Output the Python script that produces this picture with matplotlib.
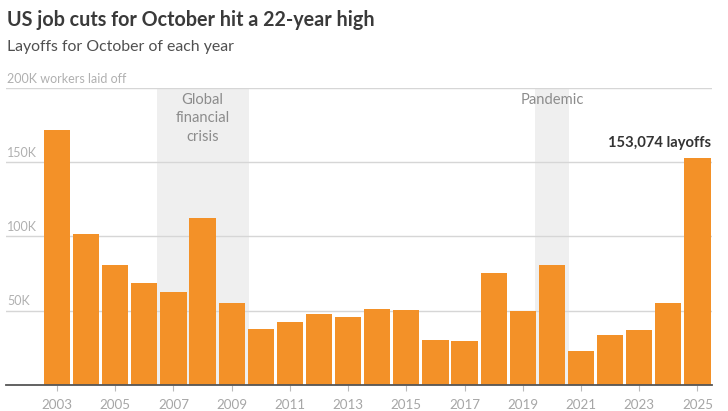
import matplotlib
matplotlib.use("Agg")
import matplotlib.pyplot as plt

# October layoffs, thousands of workers
years = list(range(2003, 2026))
layoffs_k = [171.9, 102.0, 81.0, 68.9, 62.9, 112.5, 55.5, 37.8, 42.2, 47.5,
             45.5, 50.9, 50.2, 30.4, 29.6, 75.5, 50.0, 80.5, 22.7, 33.8,
             36.9, 55.5, 153.1]
y_ticks = [50, 100, 150, 200]
x_ticks = list(range(2003, 2026, 2))
periods = [("Global\nfinancial\ncrisis", 2007, 2009), ("Pandemic", 2020, 2020)]

ORANGE = "#F39128"
SHADE = "#EFEFEF"
GRID = "#D6D6D6"
LIGHT = "#B0B0B0"
DARK = "#3A3A3A"

plt.rcParams["font.family"] = ["Lato", "DejaVu Sans"]

fig = plt.figure(figsize=(7.28, 4.11), dpi=100)
ax = fig.add_axes([6 / 728, 26 / 411, 706 / 728, 297 / 411])

# shaded periods
for label, start, end in periods:
    ax.axvspan(start - 0.58, end + 0.58, color=SHADE, zorder=0, lw=0)
    ax.text((start + end) / 2, 196.5, label, ha="center", va="top",
            fontsize=10.6, color="#8C8C8C", linespacing=1.38, zorder=1)

for t in y_ticks:
    ax.axhline(t, color=GRID, lw=1, zorder=1)
    lbl = "200K workers laid off" if t == 200 else f"{t}K"
    ax.text(2001.28, t + 2.3, lbl, ha="left", va="bottom", fontsize=9.0,
            color=LIGHT)

ax.bar(years, layoffs_k, width=0.9, color=ORANGE, zorder=2)

ax.text(years[-1] + 0.47, layoffs_k[-1] + 5, "153,074 layoffs", ha="right",
        va="bottom", fontsize=10.6, fontweight="bold", color="#333333")

ax.set_xlim(2001.25, 2025.5)
ax.set_ylim(0, 200)
ax.set_yticks([])
ax.set_xticks(x_ticks)
ax.set_xticklabels([str(y) for y in x_ticks], fontsize=9.6, color="#A6A6A6")
ax.tick_params(axis="x", length=4, width=0.8, color="#BBBBBB", pad=6)
for side in ["top", "right", "left"]:
    ax.spines[side].set_visible(False)
ax.spines["bottom"].set_color("#555555")
ax.spines["bottom"].set_linewidth(1.3)
ax.spines["bottom"].set_zorder(3)

fig.text(7 / 728, 1 - 20 / 411, "US job cuts for October hit a 22-year high",
         ha="left", va="center", fontsize=14.2, fontweight="bold", color=DARK)
fig.text(7 / 728, 1 - 47 / 411, "Layoffs for October of each year",
         ha="left", va="center", fontsize=11.4, color="#505050")

fig.savefig("out.png", dpi=100)
